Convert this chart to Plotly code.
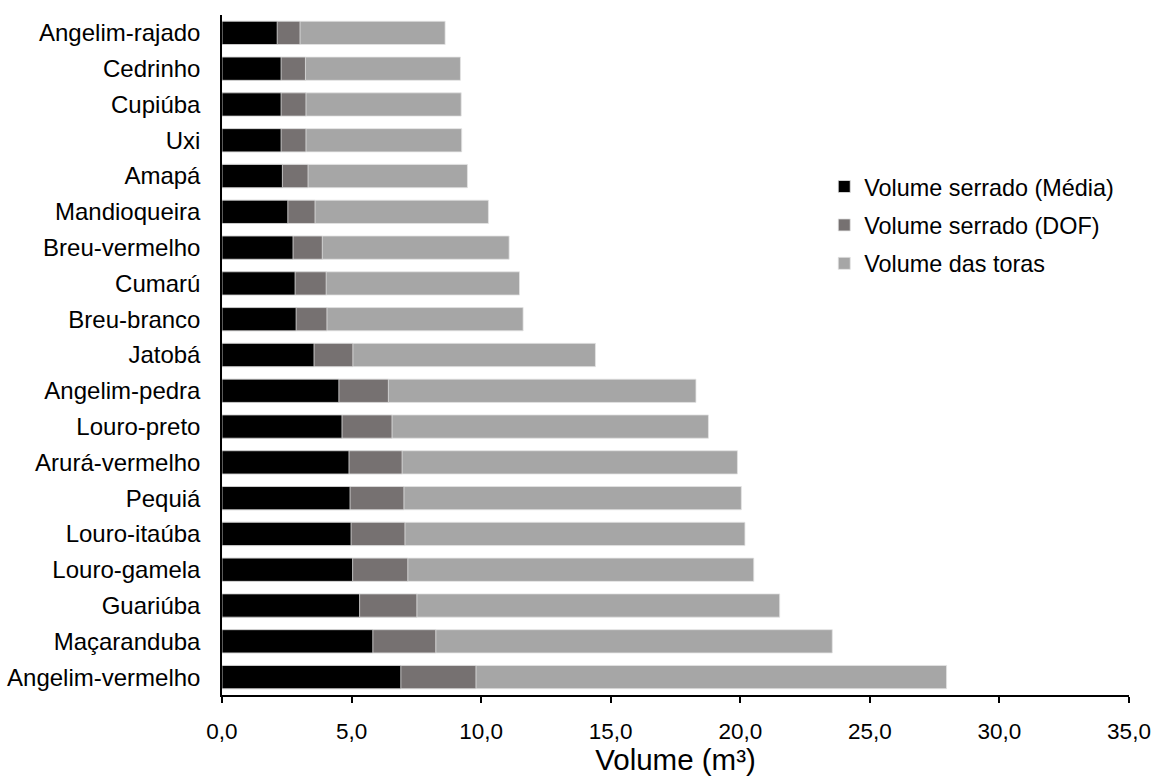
import plotly.graph_objects as go

categories = ["Angelim-rajado", "Cedrinho", "Cupiúba", "Uxi", "Amapá", "Mandioqueira",
              "Breu-vermelho", "Cumarú", "Breu-branco", "Jatobá", "Angelim-pedra",
              "Louro-preto", "Arurá-vermelho", "Pequiá", "Louro-itaúba", "Louro-gamela",
              "Guariúba", "Maçaranduba", "Angelim-vermelho"]

volume_media = [2.13, 2.28, 2.28, 2.28, 2.33, 2.54, 2.74, 2.82, 2.86, 3.55, 4.51,
                4.63, 4.90, 4.94, 4.98, 5.04, 5.31, 5.82, 6.90]
volume_dof = [3.01, 3.22, 3.24, 3.24, 3.32, 3.59, 3.87, 4.02, 4.05, 5.05, 6.42,
              6.56, 6.95, 7.02, 7.06, 7.17, 7.52, 8.25, 9.80]
volume_toras = [8.61, 9.20, 9.23, 9.25, 9.47, 10.28, 11.08, 11.48, 11.62, 14.41, 18.29,
                18.77, 19.89, 20.04, 20.18, 20.52, 21.52, 23.55, 27.96]

x_ticks = [0, 5, 10, 15, 20, 25, 30, 35]

FONT = "Liberation Sans, Arial, sans-serif"
edge = dict(color="#e3e3e3", width=0.8)

fig = go.Figure()
fig.add_trace(go.Bar(y=categories, x=volume_toras, orientation="h", name="Volume das toras",
                     marker=dict(color="#a6a6a6", line=edge), legendgroup="c", legendrank=3))
fig.add_trace(go.Bar(y=categories, x=volume_dof, orientation="h", name="Volume serrado (DOF)",
                     marker=dict(color="#767171", line=edge), legendgroup="b", legendrank=2))
fig.add_trace(go.Bar(y=categories, x=volume_media, orientation="h", name="Volume serrado (Média)",
                     marker=dict(color="#000000", line=edge), legendgroup="a", legendrank=1))

fig.update_layout(
    width=1154, height=776,
    margin=dict(l=222, r=25, t=15, b=81),
    paper_bgcolor="white", plot_bgcolor="white",
    barmode="overlay", bargap=0.35,
    separators=",.",
    font=dict(family=FONT, size=23, color="#000000"),
    showlegend=True,
    legend=dict(x=0.664, y=0.7797, xanchor="left", yanchor="top",
                traceorder="grouped", tracegroupgap=5,
                font=dict(size=23.4, family=FONT), bgcolor="rgba(0,0,0,0)"),
    xaxis=dict(range=[0, 35], tickvals=x_ticks, tickformat=".1f", automargin=False,
               showline=True, linecolor="black", linewidth=1.5,
               ticks="outside", ticklen=6, tickwidth=1.5, tickcolor="black",
               showgrid=False, zeroline=False, ticklabelstandoff=9,
               tickfont=dict(size=22.5, family=FONT),
               title=dict(text="Volume (m³)", font=dict(size=29.5, family=FONT), standoff=9)),
    yaxis=dict(autorange="reversed", showline=True, linecolor="black", linewidth=1.5,
               ticks="", showgrid=False, zeroline=False, automargin=False,
               ticklabelstandoff=15,
               tickfont=dict(size=24, family=FONT)),
)

fig.write_html("out.html", config={"displayModeBar": False},
               post_script="document.body.style.margin='0';document.body.style.overflow='hidden';")
